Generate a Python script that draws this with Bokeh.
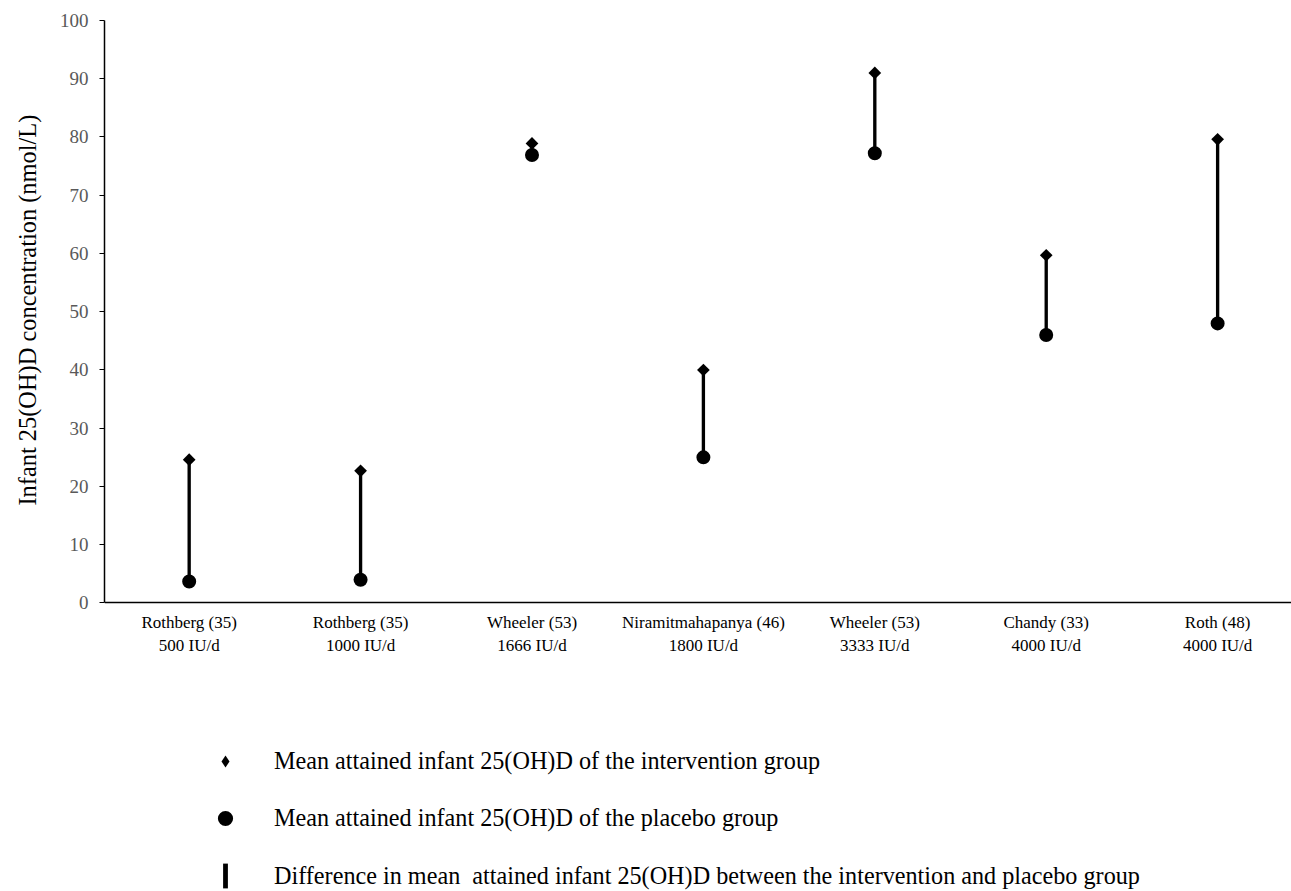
from bokeh.plotting import figure
from bokeh.models import Range1d, FixedTicker, Legend, LegendItem, ColumnDataSource, Title
from bokeh.embed import file_html
from bokeh.resources import INLINE
import math

# ---- data ----
studies = ["Rothberg (35)", "Rothberg (35)", "Wheeler (53)", "Niramitmahapanya (46)",
           "Wheeler (53)", "Chandy (33)", "Roth (48)"]
doses = ["500 IU/d", "1000 IU/d", "1666 IU/d", "1800 IU/d", "3333 IU/d", "4000 IU/d", "4000 IU/d"]
intervention = [24.6, 22.7, 78.9, 40.0, 91.0, 59.7, 79.6]
placebo = [3.7, 4.0, 76.9, 25.0, 77.2, 46.0, 48.0]
y_ticks = [0, 10, 20, 30, 40, 50, 60, 70, 80, 90, 100]

y_title = "Infant 25(OH)D concentration (nmol/L)"
label_int = "Mean attained infant 25(OH)D of the intervention group"
label_pla = "Mean attained infant 25(OH)D of the placebo group"
label_diff = "Difference in mean  attained infant 25(OH)D between the intervention and placebo group"

FONT = "Liberation Serif"

xs = list(range(len(studies)))
src = ColumnDataSource(dict(x=xs, top=intervention, bottom=placebo))

# the frame extends below the value axis so the key can sit under the chart
p = figure(width=1291, height=891, output_backend="svg", toolbar_location=None,
           x_range=Range1d(-0.494, 6.431), y_range=Range1d(-49.53, 100),
           min_border_left=104, min_border_right=0, min_border_top=20, min_border_bottom=0)
p.outline_line_color = None
p.grid.visible = False
p.background_fill_color = "white"

r_diff = p.vbar(x="x", bottom="bottom", top="top", width=0.0195, source=src,
                fill_color="black", line_color=None)
r_pla = p.scatter(x="x", y="bottom", source=src, marker="circle", size=14,
                  fill_color="black", line_color=None)
r_int = p.scatter(x="x", y="top", source=src, marker="square", angle=math.pi / 4,
                  size=9, fill_color="black", line_color=None)
# key glyph for the intervention series (legend markers are drawn unrotated)
r_int_key = p.scatter(x="x", y="top", source=src, marker="diamond", size=12,
                      fill_color="black", line_color=None, visible=False)

# x axis (sits at y = 0)
xa = p.xaxis[0]
xa.fixed_location = 0
xa.ticker = FixedTicker(ticks=xs)
xa.major_label_overrides = {i: f"{s}\n{d}" for i, s, d in zip(xs, studies, doses)}
xa.major_tick_line_color = None
xa.minor_tick_line_color = None
xa.major_tick_out = 0
xa.major_tick_in = 0
xa.major_label_standoff = 10
xa.axis_line_color = "black"
xa.axis_line_width = 1.5
xa.major_label_text_font = FONT
xa.major_label_text_font_size = "17px"
xa.major_label_text_color = "black"

# y axis
ya = p.yaxis[0]
ya.bounds = (0, 100)
ya.ticker = FixedTicker(ticks=y_ticks)
ya.minor_tick_line_color = None
ya.major_tick_out = 5
ya.major_tick_in = 0
ya.major_tick_line_color = "black"
ya.major_tick_line_width = 1.2
ya.axis_line_color = "black"
ya.axis_line_width = 1.5
ya.major_label_standoff = 11
ya.major_label_text_font = FONT
ya.major_label_text_font_size = "19px"
ya.major_label_text_color = "#595959"

# y axis title, centred on the 0-100 span of the axis
p.add_layout(Title(text=y_title, align="left", vertical_align="top", offset=386,
                   standoff=27, text_font=FONT, text_font_size="24.4px",
                   text_font_style="normal", text_color="black"), "left")


def make_legend(label, renderer, gw, gh, vx, vy, standoff):
    return Legend(items=[LegendItem(label=label, renderers=[renderer])],
                  location=(vx, vy), orientation="vertical", click_policy="none",
                  glyph_width=gw, glyph_height=gh, label_height=30,
                  label_standoff=standoff, padding=0, margin=0, spacing=0,
                  border_line_alpha=0, background_fill_alpha=0,
                  inactive_fill_alpha=0,
                  label_text_font=FONT, label_text_font_size="24.2px",
                  label_text_color="black")


p.add_layout(make_legend(label_int, r_int_key, 30, 30, 106, 115, 34))
p.add_layout(make_legend(label_pla, r_pla, 38, 38, 102, 54, 30))
p.add_layout(make_legend(label_diff, r_diff, 6, 31, 118, 0, 46))

open("out.html", "w").write(file_html(p, INLINE))
